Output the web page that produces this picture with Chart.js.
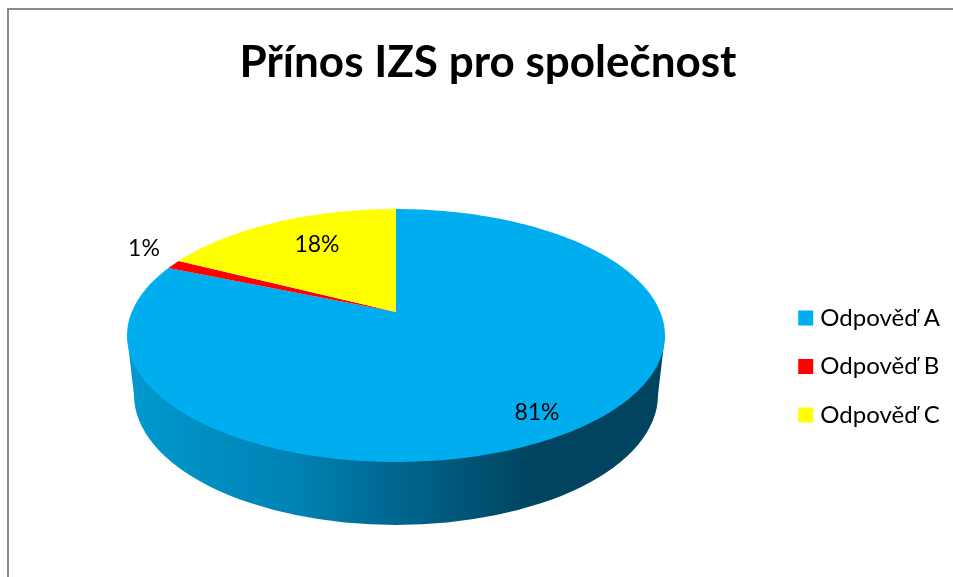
<!DOCTYPE html>
<html lang="cs">
<head>
<meta charset="utf-8">
<title>Přínos IZS pro společnost</title>
<script src="https://cdn.jsdelivr.net/npm/chart.js@4"></script>
<style>
html,body{margin:0;padding:0;background:#fff;overflow:hidden}
#wrap{width:953px;height:577px;position:relative}
</style>
</head>
<body>
<div id="wrap"><canvas id="c" width="953" height="577"></canvas></div>
<script>
const chartTitle = 'Přínos IZS pro společnost';
const categories = ['Odpověď A', 'Odpověď B', 'Odpověď C'];
const shares = [81.3, 1.2, 17.5];
const sliceColors = ['#00AEEF', '#FF0000', '#FFFF00'];

// perspective view of the pie disc
const view = {cx: 396, cy: 312, a: 264.3, b: 122.1, k: 0.1857,
               wallCy: 395, wallA: 262, wallB: 130};
const wallStops = [[0, '#0098CD'], [0.3, '#0083B5'], [0.5, '#00668F'], [0.76, '#00445F'], [1, '#00445F']];
const labelAt = [[537, 413], [144, 249], [317, 245]];
const legendShift = 60;

function project(angle) {
  const u = Math.cos(angle), v = Math.sin(angle), w = 1 - view.k * v;
  return [view.cx + view.a * u / w, view.cy + view.b * v / w];
}

Chart.ArcElement.prototype.draw = function (ctx) {
  const {startAngle, endAngle, options} = this;
  const steps = Math.max(2, Math.ceil((endAngle - startAngle) * 60));
  ctx.save();
  ctx.beginPath();
  ctx.moveTo(view.cx, view.cy);
  for (let i = 0; i <= steps; i++) {
    const p = project(startAngle + (endAngle - startAngle) * i / steps);
    ctx.lineTo(p[0], p[1]);
  }
  ctx.closePath();
  ctx.fillStyle = options.backgroundColor;
  ctx.fill();
  ctx.restore();
};

const pie3d = {
  id: 'pie3d',
  afterLayout(chart) {
    chart.legend.top += legendShift;
    chart.legend.bottom += legendShift;
  },
  beforeDraw(chart) {
    const ctx = chart.ctx;
    ctx.save();
    ctx.strokeStyle = '#8A8A8A';
    ctx.lineWidth = 2;
    ctx.beginPath();
    ctx.moveTo(8, 577);
    ctx.lineTo(8, 9);
    ctx.lineTo(953, 9);
    ctx.stroke();
    ctx.restore();
  },
  beforeDatasetsDraw(chart) {
    const ctx = chart.ctx;
    const cy0 = view.cy + (view.b / (1 - view.k) - view.b / (1 + view.k)) / 2;
    const topA = view.a / Math.sqrt(1 - view.k * view.k);
    const g = ctx.createLinearGradient(view.cx - view.wallA, 0, view.cx + view.wallA, 0);
    wallStops.forEach(s => g.addColorStop(s[0], s[1]));
    ctx.save();
    ctx.fillStyle = g;
    ctx.beginPath();
    ctx.moveTo(view.cx - topA, cy0);
    ctx.lineTo(view.cx - view.wallA, view.wallCy);
    ctx.ellipse(view.cx, view.wallCy, view.wallA, view.wallB, 0, Math.PI, 0, true);
    ctx.lineTo(view.cx + topA, cy0);
    ctx.closePath();
    ctx.fill();
    ctx.restore();
  },
  afterDatasetsDraw(chart) {
    const ctx = chart.ctx;
    ctx.save();
    ctx.font = '23px Lato';
    ctx.fillStyle = '#000';
    ctx.textAlign = 'center';
    ctx.textBaseline = 'middle';
    shares.forEach((v, i) => ctx.fillText(Math.round(v) + '%', labelAt[i][0], labelAt[i][1]));
    ctx.restore();
  }
};

new Chart(document.getElementById('c'), {
  type: 'pie',
  data: {
    labels: categories,
    datasets: [{data: shares, backgroundColor: sliceColors, borderWidth: 0}]
  },
  options: {
    responsive: false,
    animation: false,
    layout: {padding: {top: 36, right: 3, bottom: 0, left: 26}},
    plugins: {
      tooltip: {enabled: false},
      title: {
        display: true,
        text: chartTitle,
        color: '#000',
        font: {family: 'Lato', size: 44, weight: 'bold'},
        padding: {top: 0, bottom: 120},
        align: 'center'
      },
      legend: {
        position: 'right',
        labels: {
          color: '#000',
          font: {family: 'Lato', size: 24},
          usePointStyle: true,
          pointStyle: 'rect',
          boxWidth: 5,
          boxHeight: 15,
          padding: 24.5
        }
      }
    }
  },
  plugins: [pie3d]
});
</script>
</body>
</html>
